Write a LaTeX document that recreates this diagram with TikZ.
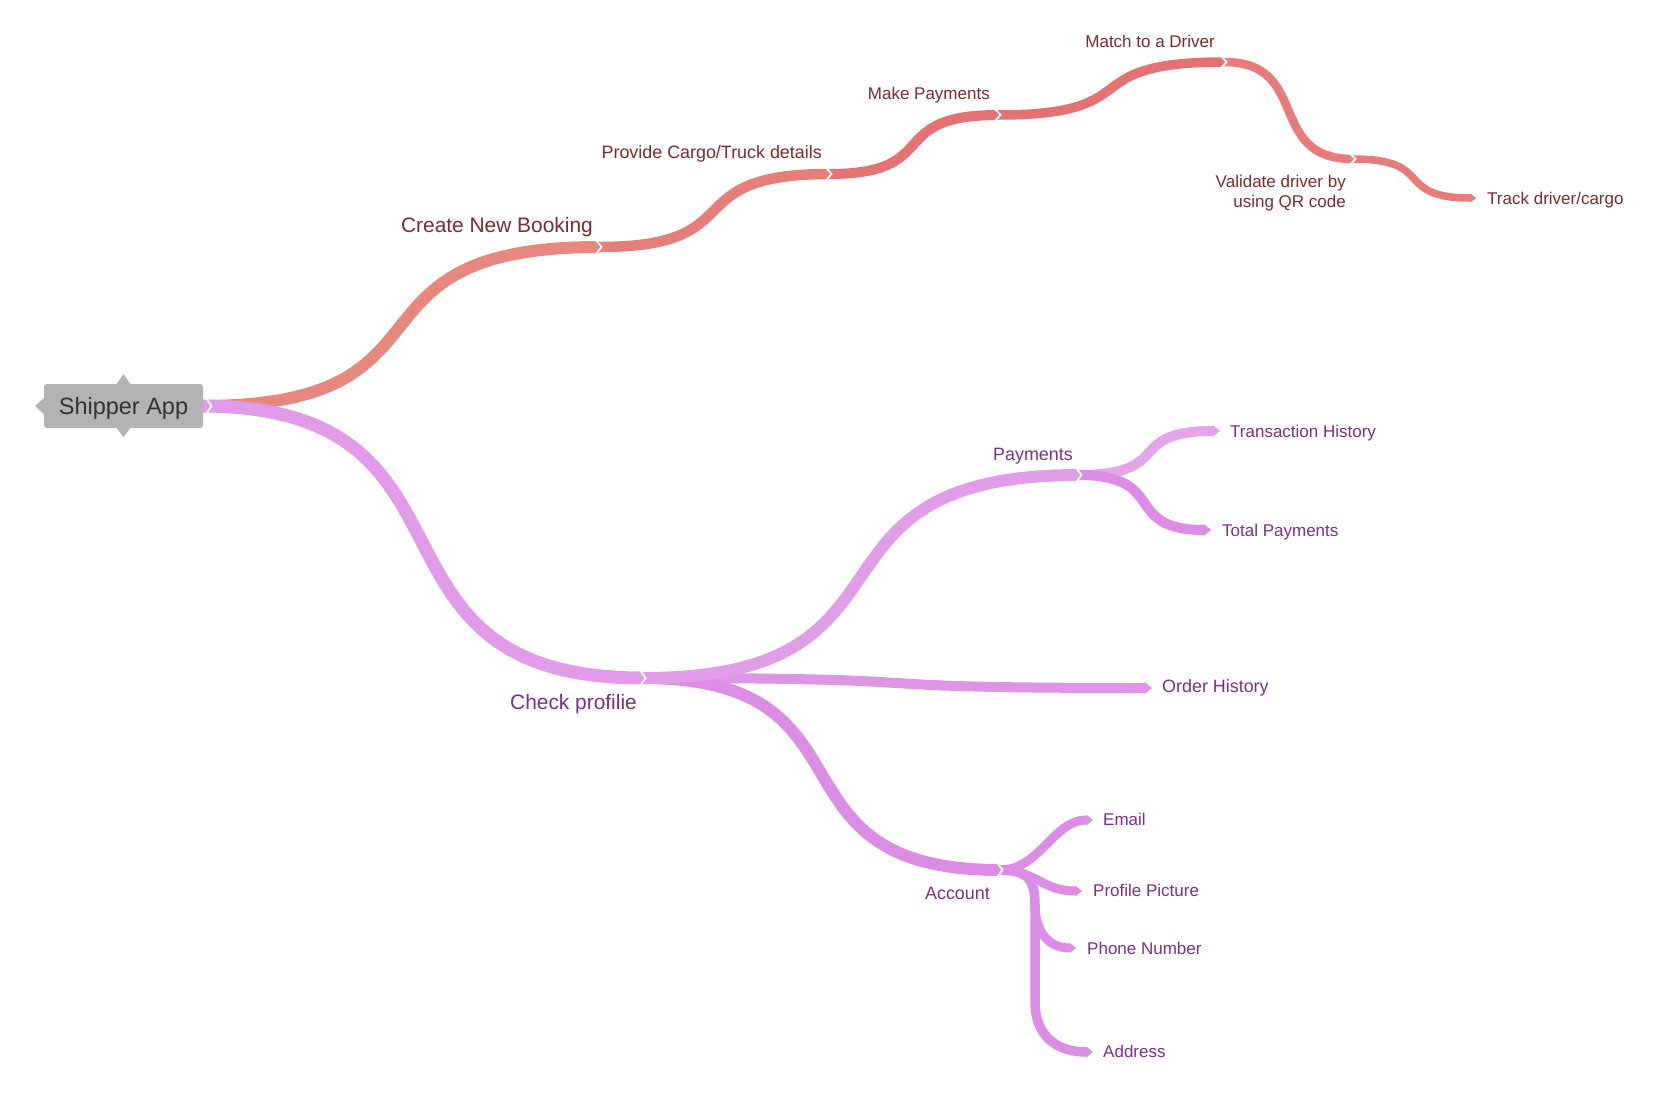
\documentclass[tikz,border=0pt]{standalone}
\usepackage{fontspec}
\setmainfont{Liberation Sans}
\usetikzlibrary{calc,arrows.meta}
\definecolor{redA}{HTML}{E8877E}
\definecolor{redB}{HTML}{E67F79}
\definecolor{redC}{HTML}{E57272}
\definecolor{redD}{HTML}{E87C7A}
\definecolor{pinkA}{HTML}{E19BE9}
\definecolor{pinkB}{HTML}{E09DE8}
\definecolor{pinkC}{HTML}{E3A6EA}
\definecolor{pinkD}{HTML}{DC8CE6}
\definecolor{pinkE}{HTML}{DE95E6}
\definecolor{pinkF}{HTML}{DB8DE6}
\definecolor{txtred}{HTML}{7F2B2B}
\definecolor{txtpur}{HTML}{7E3087}
\definecolor{rootgray}{HTML}{B3B3B3}
\definecolor{roottxt}{HTML}{333333}
\tikzset{
  lblone/.style={font=\fontsize{20.9}{24}\selectfont, inner sep=0pt},
  lbltwo/.style={font=\fontsize{17.9}{20}\selectfont, inner sep=0pt},
  lblthree/.style={font=\fontsize{17}{19}\selectfont, inner sep=0pt},
  rtxt/.style={text=txtred},
  ptxt/.style={text=txtpur},
  leaf/.style={-{Triangle[length=0pt 0.75,width=0pt 1.15]}},
  chevline/.style={white, line width=1.8pt, line join=miter},
}
\newcommand\mmlink[3]{%
  \coordinate (mmP) at ($(#1)!0.68!(#2)$);
  \coordinate (mmQ) at ($(#2)!0.68!(#1)$);
  \draw[#3] (#1) .. controls (mmP |- #1) and (mmQ |- #2) .. (#2);}
\newcommand\mmchev[2]{%
  \draw[chevline] ($(#1)+(-3,-#2)$) -- ($(#1)+(2.5,0)$) -- ($(#1)+(-3,#2)$);}
\begin{document}
\begin{tikzpicture}[x=1pt,y=-1pt]
\useasboundingbox[fill=white] (0,0) rectangle (1670,1111);
% junction coordinates
\coordinate (rootR) at (201,406);
\coordinate (rootC) at (209,406);
\coordinate (cnb) at (599,247);
\coordinate (pct) at (829,174);
\coordinate (mkp) at (998,115);
\coordinate (mad) at (1224,62);
\coordinate (val) at (1353,159);
\coordinate (trk) at (1476,198);
\coordinate (chk) at (643,678);
\coordinate (pay) at (1079,475);
\coordinate (trh) at (1220,431);
\coordinate (tot) at (1211,530);
\coordinate (ord) at (1152,688);
\coordinate (acc) at (1000,870);
\coordinate (eml) at (1093,820);
\coordinate (pic) at (1082,891);
\coordinate (phn) at (1076,948);
\coordinate (adr) at (1093,1052);
\coordinate (trunkA) at (1035,905);
\coordinate (trunkB) at (1035,1002);

% red branch
\mmlink{rootR}{cnb}{redA, line width=12pt}
\mmlink{cnb}{pct}{redB, line width=10.5pt}
\mmlink{pct}{mkp}{redC, line width=10pt}
\mmlink{mkp}{mad}{redC, line width=9.5pt}
\mmlink{mad}{val}{redD, line width=8.5pt}
\mmlink{val}{trk}{redD, line width=7.5pt, leaf}

% pink branch
\mmlink{rootR}{chk}{pinkA, line width=13pt}
\mmlink{chk}{ord}{pinkE, line width=10pt, leaf}
\mmlink{chk}{acc}{pinkF, line width=12pt}
\mmlink{chk}{pay}{pinkB, line width=12pt}
\mmlink{pay}{trh}{pinkC, line width=10pt, leaf}
\mmlink{pay}{tot}{pinkD, line width=10pt, leaf}

% account sub-branches
\draw[pinkF, line width=9.5pt] (acc) .. controls +(28,0) and +(0,-25) .. (trunkA) -- (trunkB);
\draw[pinkF, line width=9.5pt, leaf] (trunkB) .. controls +(0,35) and +(-35,0) .. (adr);
\draw[pinkF, line width=9pt, leaf] (trunkA) .. controls +(0,26) and +(-28,0) .. (phn);
\draw[pinkF, line width=9pt, leaf] (acc) .. controls +(35,0) and +(-40,0) .. (pic);
\draw[pinkF, line width=9pt, leaf] (acc) .. controls +(40,0) and +(-40,0) .. (eml);

% root node
\fill[rootgray] (116,385) -- (123.5,374) -- (131,385) -- cycle;
\fill[rootgray] (116,427) -- (123.5,437) -- (131,427) -- cycle;
\fill[rootgray] (45,397) -- (35,406) -- (45,415) -- cycle;
\fill[rootgray, rounded corners=3pt] (44,384) rectangle (203,428);
\node[anchor=base, inner sep=0pt, text=roottxt, font=\fontsize{23.5}{26}\selectfont] (root) at (123.5,414) {Shipper App};

% chevrons
\mmchev{rootC}{8}
\mmchev{cnb}{7}
\mmchev{pct}{6.5}
\mmchev{mkp}{6}
\mmchev{mad}{6}
\mmchev{val}{5.5}
\mmchev{chk}{8}
\mmchev{pay}{7.5}
\mmchev{acc}{7.5}

% labels
\node[lblone, rtxt, anchor=base east] (lcnb) at (593,232) {Create New Booking};
\node[lbltwo, rtxt, anchor=base east] (lpct) at (822,158) {Provide Cargo/Truck details};
\node[lblthree, rtxt, anchor=base east] (lmkp) at (990,99) {Make Payments};
\node[lblthree, rtxt, anchor=base east] (lmad) at (1215,47) {Match to a Driver};
\node[lblthree, rtxt, anchor=base east, align=right] (lval) at (1346,207) {Validate driver by\\[1pt]using QR code};
\node[lblthree, rtxt, anchor=base west] (ltrk) at (1487,204) {Track driver/cargo};

\node[lblone, ptxt, anchor=base east] (lchk) at (637,709) {Check profilie};
\node[lbltwo, ptxt, anchor=base east] (lpay) at (1073,460) {Payments};
\node[lblthree, ptxt, anchor=base west] (ltrh) at (1230,437) {Transaction History};
\node[lblthree, ptxt, anchor=base west] (ltot) at (1222,536) {Total Payments};
\node[lbltwo, ptxt, anchor=base west] (lord) at (1162,692) {Order History};
\node[lbltwo, ptxt, anchor=base east] (lacc) at (990,899) {Account};
\node[lblthree, ptxt, anchor=base west] (leml) at (1103,825) {Email};
\node[lblthree, ptxt, anchor=base west] (lpic) at (1093,896) {Profile Picture};
\node[lblthree, ptxt, anchor=base west] (lphn) at (1087,954) {Phone Number};
\node[lblthree, ptxt, anchor=base west] (ladr) at (1103,1057) {Address};
\end{tikzpicture}
\end{document}
